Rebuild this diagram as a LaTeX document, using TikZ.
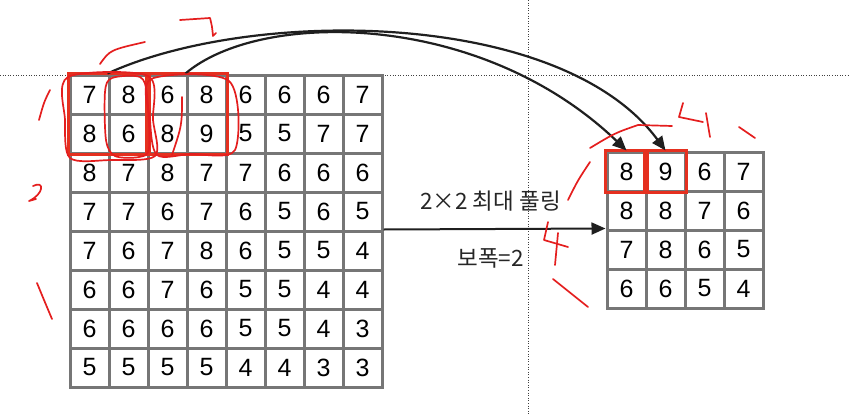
\documentclass[tikz,border=0pt]{standalone}
\usepackage{fontspec}
\setmainfont{Liberation Sans}
\newfontfamily\krfont{Noto Sans CJK KR}
\usetikzlibrary{positioning,arrows.meta}
\definecolor{gridgray}{HTML}{767676}
\definecolor{boxred}{HTML}{E5301F}
\definecolor{penred}{HTML}{E41E1E}
\tikzset{
  cell/.style ={draw=gridgray, line width=3pt, fill=white, minimum size=39pt, inner sep=0pt, font=\fontsize{25}{30}\selectfont},
  pick/.style ={draw=boxred, line width=3pt},
  flow/.style ={-{Triangle[length=14pt,width=12pt]}, line width=2.2pt, black!88},
  guide/.style={black!75, line width=0.8pt, dash pattern=on 1pt off 1.6pt},
  pen/.style  ={penred, line width=1.7pt, line cap=round, line join=round},
  lab/.style  ={font=\krfont\fontsize{22.5}{26}\selectfont, inner sep=0pt, text=black!85},
}

\begin{document}
\begin{tikzpicture}[x=1pt, y=-1pt]
  \useasboundingbox (0,0) rectangle (850,415);
  % page guides
  \draw[guide] (0,75) -- (850,75);
  \draw[guide] (528,0) -- (528,415);

  % input map 8x8
  \foreach \vals [count=\r from 0] in {{7,8,6,8,6,6,6,7},{8,6,8,9,5,5,7,7},{8,7,8,7,7,6,6,6},{7,7,6,7,6,5,6,5},
                                      {7,6,7,8,6,5,5,4},{6,6,7,6,5,5,4,4},{6,6,6,6,5,5,4,3},{5,5,5,5,4,4,3,3}}
    \foreach \v [count=\c from 0] in \vals
      \node[cell] (in-\r-\c) at ({89.5+39*\c},{94.5+39*\r}) {\v};

  % pooled map 4x4
  \foreach \vals [count=\r from 0] in {{8,9,6,7},{8,8,7,6},{7,8,6,5},{6,6,5,4}}
    \foreach \v [count=\c from 0] in \vals
      \node[cell] (out-\r-\c) at ({626.5+39*\c},{171.5+39*\r}) {\v};

  \draw[pick] (in-0-0.north west) rectangle (in-1-1.south east);
  \draw[pick] (in-0-2.north west) rectangle (in-1-3.south east);
  \draw[pick,line width=3.5pt] (out-0-0.north west) rectangle (out-0-0.south east);
  \draw[pick,line width=3.5pt] (out-0-1.north west) rectangle (out-0-1.south east);

  \draw[flow] (in-0-1.north west) .. controls (250,8) and (560,8) .. (out-0-1.north);
  \draw[flow] (in-0-3.north west) .. controls (260,10) and (480,10) .. (out-0-0.north);
  \draw[flow,line width=2pt] (in-4-7.north east) -- (out-2-0.north west);

  \node[lab, anchor=east] (pool) at (561,201) {2×2 최대 풀링};
  \node[lab, anchor=east] (stride) at (524,258) {보폭=2};

  % hand marks
  \draw[pen] plot[smooth cycle] coordinates {(112,78) (140,77) (147,95) (149,148) (139,157) (115,156) (106,140) (105,92)};
  \draw[pen] plot[smooth cycle] coordinates {(68,77) (148,76) (153,120) (155,156) (110,160) (70,158) (65,120)};
  \draw[pen] plot[smooth cycle] coordinates {(151,79) (229,81) (235,150) (190,154) (157,155) (150,120)};
  \draw[pen] (182,97) .. controls (182,125) .. (172,155);
  \draw[pen] (100,64) .. controls (110,50) .. (145,42);
  \draw[pen] (180,20) -- (210,18) .. controls (212,26) .. (213,36) -- (216,33);
  \draw[pen] (50,90) .. controls (44,102) .. (39,120);
  \draw[pen] (33,186) .. controls (45,180) and (44,194) .. (29,201) -- (36,199);
  \draw[pen] (37,283) .. controls (44,300) .. (52,319);
  \draw[pen] (590,148) .. controls (615,133) .. (638,125) -- (672,126);
  \draw[pen] (683,103) -- (679,117) -- (703,122);
  \draw[pen] (706,113) -- (710,137);
  \draw[pen] (739,127) -- (755,138);
  \draw[pen] (590,162) .. controls (578,180) .. (568,200);
  \draw[pen] (548,222) -- (544,240) -- (568,247);
  \draw[pen] (558,233) -- (555,265);
  \draw[pen] (553,279) -- (588,307);
\end{tikzpicture}
\end{document}
